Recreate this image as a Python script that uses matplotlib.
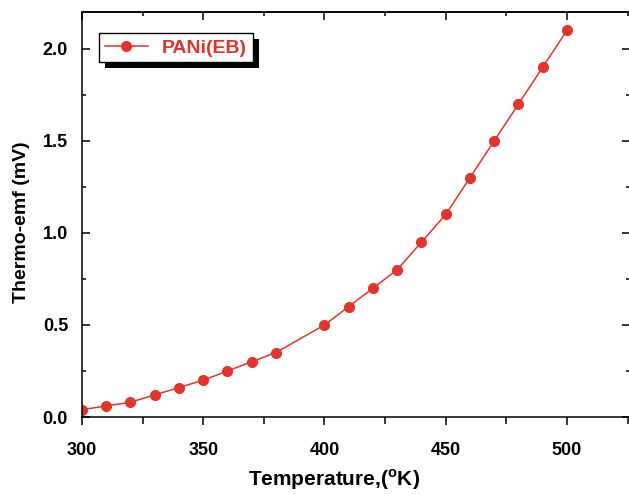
import matplotlib
matplotlib.use("Agg")
import matplotlib.pyplot as plt
from matplotlib.ticker import MultipleLocator
from matplotlib.patches import Rectangle

plt.rcParams['font.family'] = ['Liberation Sans', 'DejaVu Sans']
plt.rcParams['font.weight'] = 'bold'
plt.rcParams['mathtext.fontset'] = 'custom'
plt.rcParams['mathtext.rm'] = 'Liberation Sans:bold'
plt.rcParams['mathtext.bf'] = 'Liberation Sans:bold'

# temperature (K) and thermo-emf (mV)
temperature = [300, 310, 320, 330, 340, 350, 360, 370, 380, 400,
               410, 420, 430, 440, 450, 460, 470, 480, 490, 500]
emf = [0.04, 0.06, 0.08, 0.12, 0.16, 0.20, 0.25, 0.30, 0.35, 0.50,
       0.60, 0.70, 0.80, 0.95, 1.10, 1.30, 1.50, 1.70, 1.90, 2.10]
series_name = "PANi(EB)"

red = '#e2342a'

fig = plt.figure(figsize=(6.29, 4.94), dpi=100)
ax = fig.add_axes([82 / 629, 77 / 494, 548 / 629, 405 / 494])

ax.plot(temperature, emf, color=red, lw=1.1, marker='o', ms=7,
        label=series_name)

ax.set_xlim(300, 526)
ax.set_ylim(0, 2.2)
ax.xaxis.set_major_locator(MultipleLocator(50))
ax.xaxis.set_minor_locator(MultipleLocator(25))
ax.yaxis.set_major_locator(MultipleLocator(0.5))
ax.yaxis.set_minor_locator(MultipleLocator(0.25))
ax.yaxis.set_major_formatter(plt.FormatStrFormatter('%.1f'))

for s in ax.spines.values():
    s.set_linewidth(1.1)

ax.tick_params(axis='x', which='both', direction='out', top=False,
               labelsize=13, pad=12, width=1.1)
ax.tick_params(axis='x', which='major', length=6)
ax.tick_params(axis='x', which='minor', length=5)
ax.tick_params(axis='y', which='both', direction='in', right=True,
               labelsize=13, pad=10, width=1.1)
ax.tick_params(axis='y', which='major', length=6)
ax.tick_params(axis='y', which='minor', length=3)

# top axis has inward ticks
sec = ax.secondary_xaxis('top')
sec.xaxis.set_major_locator(MultipleLocator(50))
sec.xaxis.set_minor_locator(MultipleLocator(25))
sec.tick_params(which='both', direction='in', labeltop=False, width=1.1)
sec.tick_params(which='major', length=6)
sec.tick_params(which='minor', length=3)
sec.spines['top'].set_linewidth(1.1)

ax.set_xlabel(r"Temperature,($^{\mathrm{o}}$K)", fontsize=15, fontweight='bold')
ax.xaxis.set_label_coords(0.46, -0.125)
ax.set_ylabel("Thermo-emf (mV)", fontsize=14, fontweight='bold')
ax.yaxis.set_label_coords(-0.095, 0.48)

leg = ax.legend(loc='upper left', bbox_to_anchor=(0.031, 0.948),
                fancybox=False, edgecolor='black', framealpha=1,
                handlelength=2.2, borderpad=0.3, handletextpad=0.75,
                borderaxespad=0, prop={'size': 14, 'weight': 'bold'})
leg.get_frame().set_linewidth(1.0)
leg.set_zorder(6)
for t in leg.get_texts():
    t.set_color(red)

# solid black drop shadow behind the legend box
fig.canvas.draw()
bb = leg.get_window_extent()
inv = ax.transAxes.inverted()
(x0, y0), (x1, y1) = inv.transform([[bb.x0 + 6, bb.y0 - 6], [bb.x1 + 6, bb.y1 - 6]])
ax.add_patch(Rectangle((x0, y0), x1 - x0, y1 - y0, transform=ax.transAxes,
                       facecolor='black', edgecolor='none', zorder=5.5,
                       clip_on=False))

fig.savefig("out.png", dpi=100)
